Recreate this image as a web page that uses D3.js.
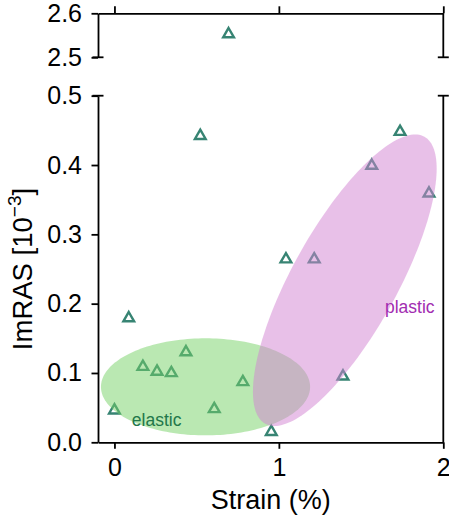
<!DOCTYPE html>
<html>
<head>
<meta charset="utf-8">
<script src="https://cdn.jsdelivr.net/npm/d3@7"></script>
<style>
  html, body { margin: 0; padding: 0; background: #fff; }
  svg { display: block; font-family: "Liberation Sans", Arial, sans-serif; }
</style>
</head>
<body>
<svg id="chart" width="449" height="518"></svg>
<script>
// Measured samples: strain amplitude (%) and ImRAS (x 10^-3)
const strain = [0.694, 0.522, 1.737, 1.565, 1.913, 1.043, 1.215, 0.087, 0.435, 0.173,
                0.259, 0.346, 0.781, 1.390, 0.000, 0.607, 0.954];
const imras  = [2.5525, 0.442, 0.448, 0.399, 0.359, 0.264, 0.264, 0.179, 0.130, 0.109,
                0.102, 0.100, 0.087, 0.095, 0.046, 0.048, 0.015];

// Region outlines (data units): centre, semi-axis vectors
const elasticRegion = { cx: 0.554, cy: 0.080, u: [0.636, 0.0], v: [0.0, 0.070] };
const plasticRegion = { cx: 1.401, cy: 0.2338, u: [0.484, 0.207], v: [0.279, -0.0368] };

const xTicks = [0, 1, 2];
const yTicksTop = [2.5, 2.6];
const yTicksBottom = [0.0, 0.1, 0.2, 0.3, 0.4, 0.5];

const svg = d3.select("#chart");
const left = 98, right = 443.3;
const topPanel = { y0: 13.3, y1: 57.3 };
const botPanel = { y0: 95.7, y1: 442.3 };

const x = d3.scaleLinear().domain([-0.1, 2.0]).range([left, right]);
const yTop = d3.scaleLinear().domain([2.5, 2.6]).range([topPanel.y1, topPanel.y0]);
const yBot = d3.scaleLinear().domain([0, 0.5]).range([botPanel.y1, botPanel.y0]);

const lw = 1.8;
const fmt = d3.format(".1f");

function styleAxis(g) {
  g.select(".domain").attr("stroke", "#000").attr("stroke-width", lw);
  g.selectAll(".tick line").attr("stroke", "#000").attr("stroke-width", lw);
  g.selectAll(".tick text").attr("fill", "#000").attr("font-size", 25)
    .attr("font-family", "'Liberation Sans', Arial, sans-serif");
}

// ---- top panel (2.5 - 2.6) ----
svg.append("g").attr("transform", `translate(${left},0)`)
  .call(d3.axisLeft(yTop).tickValues(yTicksTop).tickFormat(fmt)
        .tickSize(6.5).tickSizeOuter(0).tickPadding(9.5))
  .call(styleAxis);
svg.append("g").attr("transform", `translate(0,${topPanel.y0})`)
  .call(d3.axisTop(x).tickValues(xTicks).tickFormat("")
        .tickSize(7).tickSizeOuter(0))
  .call(styleAxis);
svg.append("line").attr("x1", right).attr("x2", right)
  .attr("y1", topPanel.y0).attr("y2", topPanel.y1)
  .attr("stroke", "#000").attr("stroke-width", lw);

// ---- bottom panel (0 - 0.5) ----
svg.append("g").attr("transform", `translate(${left},0)`)
  .call(d3.axisLeft(yBot).tickValues(yTicksBottom).tickFormat(fmt)
        .tickSize(6.5).tickSizeOuter(0).tickPadding(9.5))
  .call(styleAxis);
svg.append("g").attr("transform", `translate(0,${botPanel.y1})`)
  .call(d3.axisBottom(x).tickValues(xTicks).tickFormat(d3.format("d"))
        .tickSize(6.5).tickSizeOuter(0).tickPadding(9.5))
  .call(styleAxis);
svg.append("line").attr("x1", right).attr("x2", right)
  .attr("y1", botPanel.y0).attr("y2", botPanel.y1)
  .attr("stroke", "#000").attr("stroke-width", lw);

// break marks on both spines where the axis is cut
[yTop(2.5), yBot(0.5)].forEach(yy => {
  [left, right].forEach(xx => {
    svg.append("line").attr("x1", xx - 5.5).attr("x2", xx + 5.5)
      .attr("y1", yy).attr("y2", yy)
      .attr("stroke", "#000").attr("stroke-width", lw);
  });
});

// ---- markers ----
const tri = d3.symbol().type(d3.symbolTriangle).size(50);
const pts = strain.map((s, i) => ({ s, v: imras[i] }));
const markerColor = "#378473";

svg.append("g").selectAll("path")
  .data(pts.filter(d => d.v >= 2.5 && d.v <= 2.6))
  .join("path")
  .attr("d", tri)
  .attr("transform", d => `translate(${x(d.s)},${yTop(d.v)})`)
  .attr("fill", "none").attr("stroke", markerColor).attr("stroke-width", 2.4);

svg.append("g").selectAll("path")
  .data(pts.filter(d => d.v >= 0 && d.v <= 0.5))
  .join("path")
  .attr("d", tri)
  .attr("transform", d => `translate(${x(d.s)},${yBot(d.v)})`)
  .attr("fill", "none").attr("stroke", markerColor).attr("stroke-width", 2.4);

// ---- shaded regions ----
function ellipsePath(r) {
  const ts = d3.range(0, 2 * Math.PI, Math.PI / 90);
  const line = d3.line()
    .x(t => x(r.cx + r.u[0] * Math.cos(t) + r.v[0] * Math.sin(t)))
    .y(t => yBot(r.cy + r.u[1] * Math.cos(t) + r.v[1] * Math.sin(t)))
    .curve(d3.curveLinearClosed);
  return line(ts);
}

svg.append("path").attr("d", ellipsePath(elasticRegion))
  .attr("fill", "rgb(117,209,101)").attr("fill-opacity", 0.5);
svg.append("path").attr("d", ellipsePath(plasticRegion))
  .attr("fill", "rgb(209,129,209)").attr("fill-opacity", 0.5);

svg.append("text").attr("x", x(0.106)).attr("y", yBot(0.0235))
  .attr("font-size", 17.5).attr("fill", "#22774a").text("elastic");
svg.append("text").attr("x", x(1.645)).attr("y", yBot(0.1862))
  .attr("font-size", 17.5).attr("fill", "#a22db1").text("plastic");

// ---- axis titles ----
svg.append("text")
  .attr("x", (left + right) / 2).attr("y", 509)
  .attr("text-anchor", "middle").attr("font-size", 27).attr("fill", "#000")
  .text("Strain (%)");

const yl = svg.append("text")
  .attr("transform", "rotate(-90)")
  .attr("x", -(botPanel.y0 + botPanel.y1) / 2).attr("y", 31.7)
  .attr("text-anchor", "middle").attr("font-size", 27.5).attr("fill", "#000");
yl.append("tspan").text("ImRAS [10");
yl.append("tspan").attr("dy", -11).attr("font-size", 19).text("\u22123");
yl.append("tspan").attr("dy", 11).text("]");
</script>
</body>
</html>
